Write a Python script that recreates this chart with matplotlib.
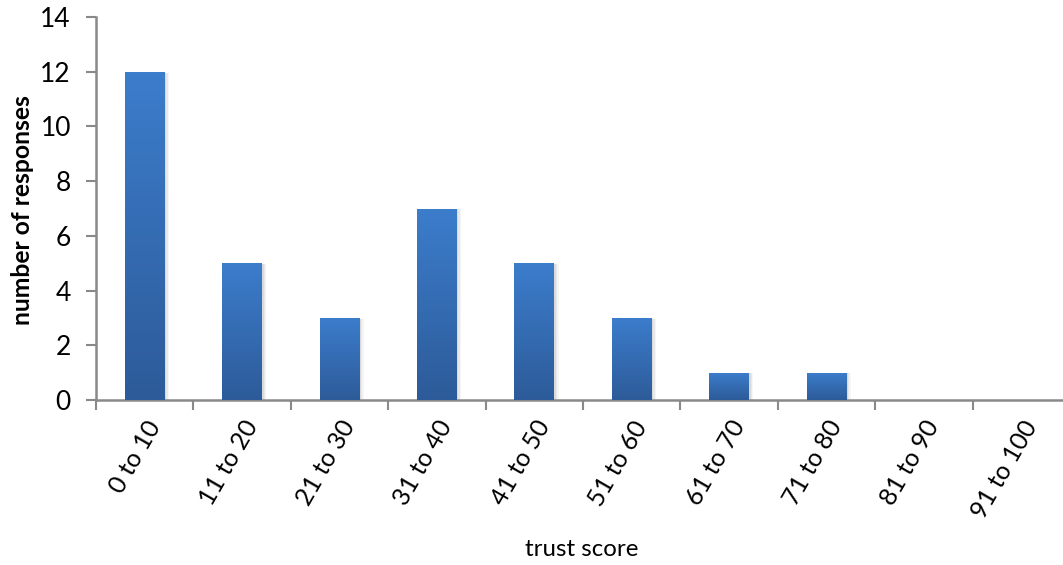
import matplotlib
matplotlib.use("Agg")
import matplotlib.pyplot as plt
import numpy as np
from matplotlib.colors import LinearSegmentedColormap

categories = ["0 to 10", "11 to 20", "21 to 30", "31 to 40", "41 to 50",
              "51 to 60", "61 to 70", "71 to 80", "81 to 90", "91 to 100"]
responses = [12, 5, 3, 7, 5, 3, 1, 1, 0, 0]
yticks = [0, 2, 4, 6, 8, 10, 12, 14]

plt.rcParams['font.family'] = ['Lato', 'DejaVu Sans']

W, H = 1063, 565
fig = plt.figure(figsize=(W / 100, H / 100), dpi=100)
left, right, bottom, top = 96, 1070, 400, 17
ax = fig.add_axes([left / W, 1 - bottom / H, (right - left) / W, (bottom - top) / H])

n = len(categories)
x = np.arange(n)
bw = 0.41
cmap = LinearSegmentedColormap.from_list("g", ["#2d5b99", "#3c7dcc"])
grad = np.linspace(0, 1, 256).reshape(-1, 1)

bars = ax.bar(x, responses, width=bw, color="none", edgecolor="none", zorder=2)
for b, v in zip(bars, responses):
    if v <= 0:
        continue
    x0 = b.get_x()
    # soft shadow
    for k, a in [(0.045, 0.04), (0.03, 0.05), (0.015, 0.06)]:
        ax.bar(x0 + bw / 2 + k, v - 0.03, width=bw, bottom=0,
               color="#000000", alpha=a, edgecolor="none", zorder=1)
    im = ax.imshow(grad, extent=[x0, x0 + bw, 0, v], origin="lower",
                   cmap=cmap, aspect="auto", zorder=3)
    im.set_clip_path(b)

ax.set_xlim(-0.5, n - 0.5)
ax.set_ylim(0, 14)
ax.set_yticks(yticks)
ax.set_xticks(np.arange(n + 1) - 0.5, minor=False)
ax.set_xticklabels([])
ax.set_xticks(x, minor=True)
ax.set_xticklabels(categories, minor=True, rotation=60, ha="right",
                   va="top", rotation_mode="anchor", fontsize=18)
ax.tick_params(axis="x", which="minor", length=0, pad=12)
ax.tick_params(axis="x", which="major", length=7, width=1.5, color="#898989",
               direction="out")
ax.tick_params(axis="y", length=7, width=1.5, color="#898989", direction="out",
               labelsize=19, pad=11)

for s in ["top", "right"]:
    ax.spines[s].set_visible(False)
for s in ["left", "bottom"]:
    ax.spines[s].set_color("#898989")
    ax.spines[s].set_linewidth(1.8)

fig.text(22 / W, 1 - 210 / H, "number of responses", rotation=90,
         ha="center", va="center", fontsize=17.7, fontweight="bold")
fig.text(582 / W, 1 - 549 / H, "trust score", ha="center", va="center",
         fontsize=17.3)

fig.savefig("out.png", dpi=100)
